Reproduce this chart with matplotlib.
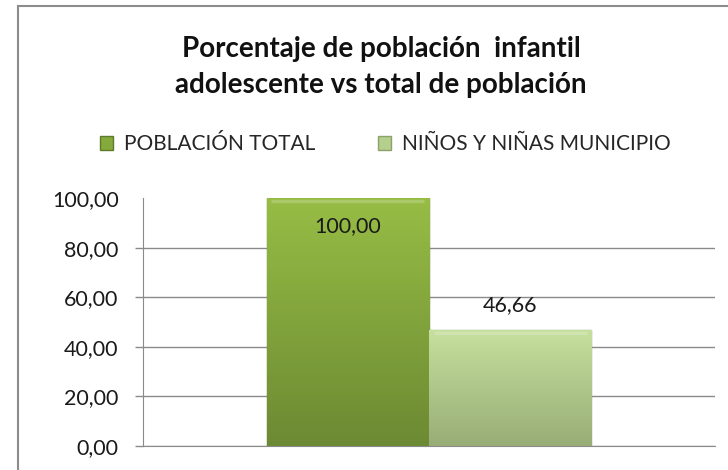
import numpy as np
import matplotlib
matplotlib.use("Agg")
import matplotlib.pyplot as plt
from matplotlib.patches import Rectangle
from matplotlib.colors import LinearSegmentedColormap

plt.rcParams['font.family'] = ['Lato', 'DejaVu Sans']

# data
series = ["POBLACIÓN TOTAL", "NIÑOS Y NIÑAS MUNICIPIO"]
values = [100.00, 46.66]
yticks = [0, 20, 40, 60, 80, 100]
title = "Porcentaje de población  infantil\nadolescente vs total de población"

# colours: (top, bottom) of each bar gradient
base_colors = ["#86a93c", "#b5cf8c"]
grad_colors = [("#97bd45", "#6c8a33"), ("#c6e09e", "#98ad76")]
edge_colors = ["#5e7a2c", "#8ca16b"]

fig = plt.figure(figsize=(7.28, 4.70), dpi=100)
ax = fig.add_axes([143 / 728, 1 - 446 / 470, 572 / 728, 248 / 470])

w = 0.284
offsets = [-w / 2, w / 2]
bars = []
for i, (name, val) in enumerate(zip(series, values)):
    b = ax.bar(offsets[i], val, width=w, color=base_colors[i], edgecolor=edge_colors[i],
               linewidth=1.0, label=name, zorder=3)
    bars.append(b)
    # vertical gradient clipped to the bar
    p = b.patches[0]
    x0, y0 = p.get_x(), p.get_y()
    cmap = LinearSegmentedColormap.from_list("g%d" % i, [grad_colors[i][1], grad_colors[i][0]])
    grad = np.linspace(0, 1, 256).reshape(-1, 1)
    im = ax.imshow(grad, cmap=cmap, origin="lower", aspect="auto",
                   extent=[x0, x0 + p.get_width(), y0, y0 + p.get_height()], zorder=3.5)
    im.set_clip_path(p)
    # soft bevel on top edge
    ax.plot([x0 + 0.008, x0 + p.get_width() - 0.008], [val - 1.2, val - 1.2],
            color="white", alpha=0.2, lw=2.5, zorder=4, solid_capstyle="butt")

ax.set_xlim(-0.5, 0.5)
ax.set_ylim(0, 100)
ax.set_yticks(yticks)
ax.set_yticklabels([("%.2f" % t).replace(".", ",") for t in yticks])
ax.set_xticks([])

ax.grid(axis="y", color="#8a8a8a", linewidth=1.0, zorder=0)
ax.set_axisbelow(True)
ax.yaxis.get_gridlines()[-1].set_visible(False)
ax.yaxis.get_major_ticks()[-1].tick1line.set_visible(False)
for s in ["top", "right"]:
    ax.spines[s].set_visible(False)
ax.spines["left"].set_color("#8a8a8a")
ax.spines["bottom"].set_color("#8a8a8a")
ax.tick_params(axis="y", length=5.5, width=1.0, color="#8a8a8a", pad=12,
               labelsize=15.5, labelcolor="#1a1a1a")

# value labels
ax.annotate("100,00", (offsets[0], values[0]), xytext=(0, -20), textcoords="offset points",
            ha="center", va="center", fontsize=15.5, color="#1a1a1a", zorder=5)
ax.annotate("46,66", (offsets[1], values[1]), xytext=(0, 18), textcoords="offset points",
            ha="center", va="center", fontsize=15.5, color="#1a1a1a", zorder=5)

fig.text(381 / 728, 1 - 67 / 470, title, ha="center", va="center", fontsize=20,
         fontweight="bold", color="#111111", linespacing=1.45)

fig.legend(handles=[b.patches[0] for b in bars], labels=series, loc="center",
           bbox_to_anchor=(385 / 728, 1 - 144 / 470), ncol=2, frameon=False,
           fontsize=15, handlelength=0.65, handleheight=0.65, handletextpad=0.5,
           columnspacing=3.0, labelcolor="#262626")

# chart border
fig.patches.append(Rectangle((18 / 728, -0.1), 1.2, 1.1 - 6 / 470, transform=fig.transFigure,
                             fill=False, edgecolor="#8c8c8c", linewidth=1.5))

fig.savefig("out.png", dpi=100)
